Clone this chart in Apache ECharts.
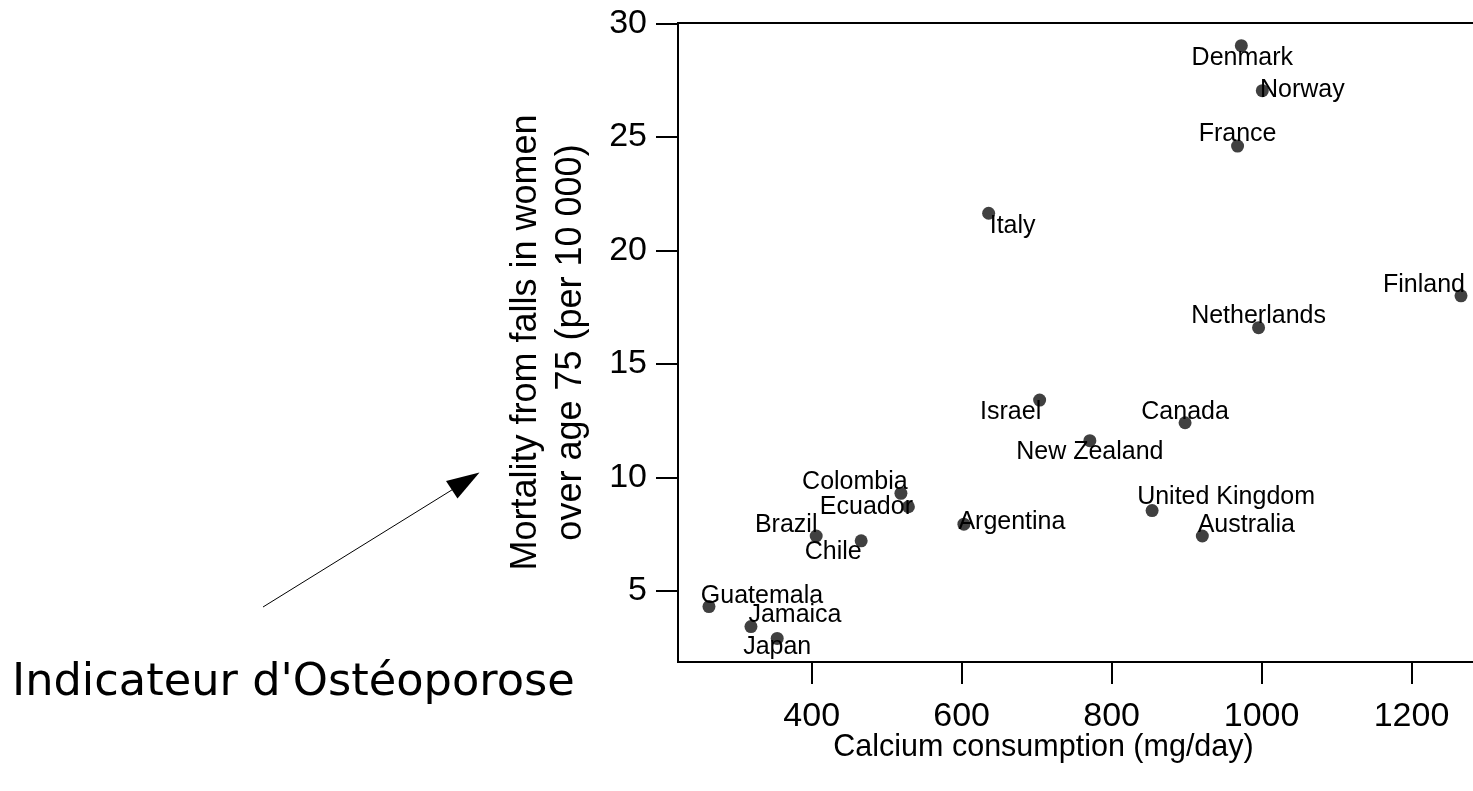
<!DOCTYPE html>
<html><head><meta charset="utf-8">
<script src="https://cdn.jsdelivr.net/npm/echarts@6/dist/echarts.min.js"></script>
<style>html,body{margin:0;padding:0;background:#fff;overflow:hidden}#c{width:1510px;height:791px}</style>
</head><body><div id="c"></div>
<script>
const countries = ['Denmark','Norway','France','Finland','Netherlands','Canada','United Kingdom','Australia','Colombia','Ecuador','Argentina','Brazil','Chile','Guatemala','Jamaica','Japan','Italy','Israel','New Zealand'];
const calcium = [973, 1001, 968, 1266, 996, 898, 854, 921, 519, 529, 603, 406, 466, 263, 319, 354, 636, 704, 771];
const mortality = [29.02, 27.04, 24.6, 18.0, 16.6, 12.41, 8.54, 7.42, 9.3, 8.71, 7.94, 7.42, 7.21, 4.31, 3.43, 2.91, 21.64, 13.41, 11.62];
const xTicks = [400, 600, 800, 1000, 1200];
const yTicks = [5, 10, 15, 20, 25, 30];
// label placement (style): offset of label centre from point, px
const labelOffsets = [[1,12],[40,-1],[0,-12],[-37,-11],[0,-12],[0,-11],[74,-13],[44,-11],[-46,-11],[-42,0],[48,-2],[-30,-11],[-28,11],[53,-11],[44,-11],[0,9],[24,13],[-29,12],[0,11]];

const chart = echarts.init(document.getElementById('c'), null, {renderer:'canvas'});
const font = 'Liberation Sans';
const data = countries.map((n, i) => ({ name: n, value: [calcium[i], mortality[i]] }));
chart.setOption({
  animation: false,
  backgroundColor: '#fff',
  grid: { left: 678, top: 23, width: 813, height: 639, show: true, borderColor: '#000', borderWidth: 2, containLabel: false },
  xAxis: {
    type: 'value', min: 221.7, max: 1306,
    name: 'Calcium consumption (mg/day)', nameLocation: 'middle', nameGap: 70, nameMoveOverlap: false,
    nameTextStyle: { fontSize: 30.5, fontFamily: font, color: '#000', padding: [0, 82, 0, 0] },
    axisLine: { show: true, lineStyle: { color: '#000', width: 2 } },
    axisTick: { show: true, inside: false, length: 22, lineStyle: { color: '#000', width: 2 }, customValues: xTicks },
    axisLabel: { fontSize: 34, fontFamily: font, color: '#000', margin: 38, customValues: xTicks, formatter: v => String(v) },
    splitLine: { show: false }
  },
  yAxis: {
    type: 'value', min: 1.87, max: 30.02,
    name: 'Mortality from falls in women\nover age 75 (per 10 000)', nameLocation: 'middle', nameRotate: 90, nameGap: 84, nameMoveOverlap: false,
    nameTextStyle: { fontSize: 36, fontFamily: font, color: '#000', lineHeight: 45 },
    axisLine: { show: true, lineStyle: { color: '#000', width: 2 } },
    axisTick: { show: true, inside: false, length: 22, lineStyle: { color: '#000', width: 2 }, customValues: yTicks },
    axisLabel: { fontSize: 34, fontFamily: font, color: '#000', margin: 31, customValues: yTicks, formatter: v => String(v) },
    splitLine: { show: false }
  },
  series: [{
    type: 'scatter',
    symbol: 'circle',
    symbolSize: 13,
    itemStyle: { color: '#404040', opacity: 1 },
    label: { show: true, position: 'inside', formatter: '{b}', color: '#000', opacity: 1, fontSize: 25, fontFamily: font, align: 'center', verticalAlign: 'middle', textBorderWidth: 0 },
    labelLayout: p => ({ dx: labelOffsets[p.dataIndex][0], dy: labelOffsets[p.dataIndex][1], hideOverlap: false }),
    emphasis: { disabled: true },
    data: data
  }],
  graphic: [
    { type: 'text', x: 12, y: 683, style: { text: "Indicateur d'Ostéoporose", font: '44.7px "DejaVu Sans"', fill: '#000', verticalAlign: 'middle', align: 'left' } },
    { type: 'line', shape: { x1: 263, y1: 607, x2: 455, y2: 488 }, style: { stroke: '#000', lineWidth: 1 } },
    { type: 'polygon', shape: { points: [[479.5, 472.5], [446, 481], [457.5, 498.5]] }, style: { fill: '#000' } }
  ]
});
</script></body></html>
